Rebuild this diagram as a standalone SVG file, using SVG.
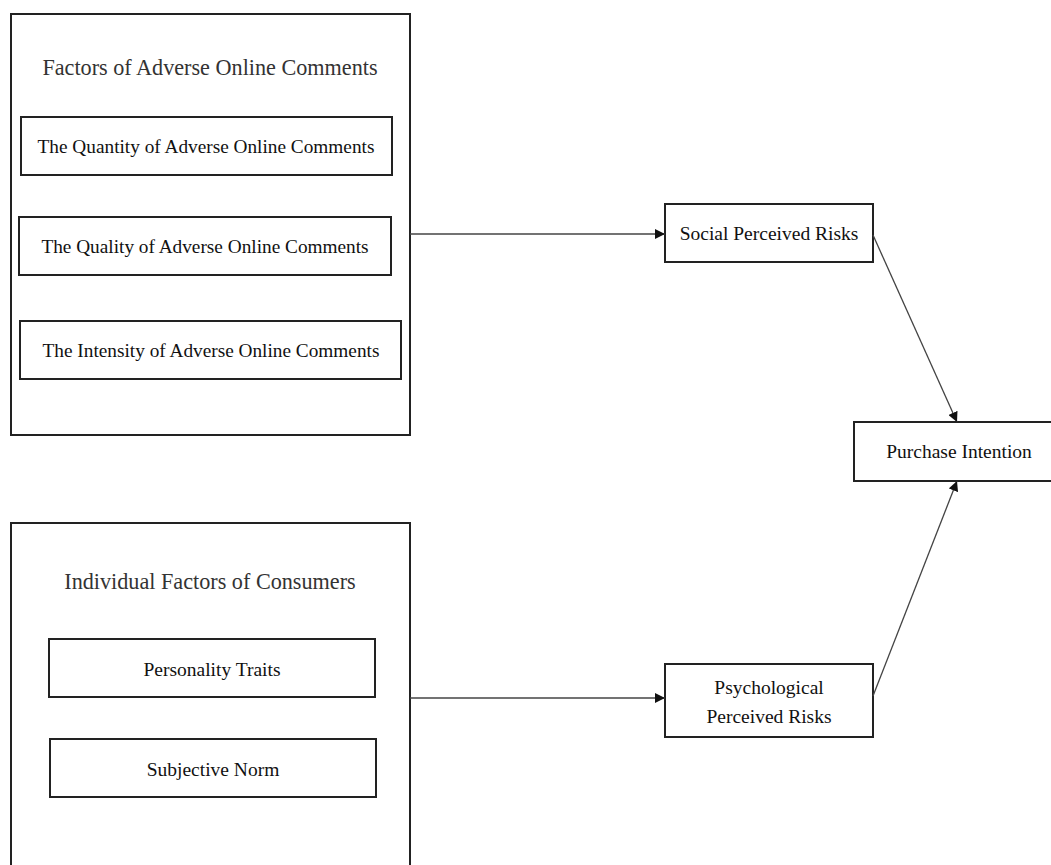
<svg xmlns="http://www.w3.org/2000/svg" width="1051" height="865" viewBox="0 0 1051 865">
<style>
.box{fill:#fff;stroke:#222;stroke-width:2}
.t{font-family:"Liberation Serif","Times New Roman",serif;fill:#111;text-anchor:middle}
.title{font-size:22.2px;fill:#333}
.lbl{font-size:19.3px}
.sm{font-size:19.5px}
.edge{stroke:#444;stroke-width:1.3;fill:none;marker-end:url(#arr)}
</style>
<defs>
<marker id="arr" viewBox="0 0 10 10" refX="10" refY="5" markerWidth="10" markerHeight="10" markerUnits="userSpaceOnUse" orient="auto">
<path d="M0,0 L10,5 L0,10 z" fill="#111"/>
</marker>
</defs>
<rect width="1051" height="865" fill="#fff"/>
<g id="adverse">
<rect class="box" x="11" y="14" width="399" height="421"/>
<text class="t title" x="210" y="75">Factors of Adverse Online Comments</text>
</g>
<g id="quantity">
<rect class="box" x="21" y="117" width="371" height="58"/>
<text class="t lbl" x="206" y="153">The Quantity of Adverse Online Comments</text>
</g>
<g id="quality">
<rect class="box" x="19" y="217" width="372" height="58"/>
<text class="t lbl" x="205" y="253">The Quality of Adverse Online Comments</text>
</g>
<g id="intensity">
<rect class="box" x="20" y="321" width="381" height="58"/>
<text class="t lbl" x="211" y="357">The Intensity of Adverse Online Comments</text>
</g>
<g id="individual">
<rect class="box" x="11" y="523" width="399" height="360"/>
<text class="t title" x="210" y="589">Individual Factors of Consumers</text>
</g>
<g id="personality">
<rect class="box" x="49" y="639" width="326" height="58"/>
<text class="t sm" x="212" y="676">Personality Traits</text>
</g>
<g id="subjective">
<rect class="box" x="50" y="739" width="326" height="58"/>
<text class="t sm" x="213" y="776">Subjective Norm</text>
</g>
<g id="social">
<rect class="box" x="665" y="204" width="208" height="58"/>
<text class="t sm" x="769" y="240">Social Perceived Risks</text>
</g>
<g id="psychological">
<rect class="box" x="665" y="664" width="208" height="73"/>
<text class="t sm" x="769" y="694">Psychological</text>
<text class="t sm" x="769" y="723">Perceived Risks</text>
</g>
<g id="purchase">
<rect class="box" x="854" y="422" width="210" height="59"/>
<text class="t sm" x="959" y="458">Purchase Intention</text>
</g>
<g id="connectors">
<line class="edge" x1="410" y1="234" x2="665" y2="234"/>
<line class="edge" x1="410" y1="698" x2="665" y2="698"/>
<line class="edge" x1="873" y1="235" x2="957" y2="422"/>
<line class="edge" x1="873" y1="696" x2="957" y2="481"/>
</g>
</svg>
